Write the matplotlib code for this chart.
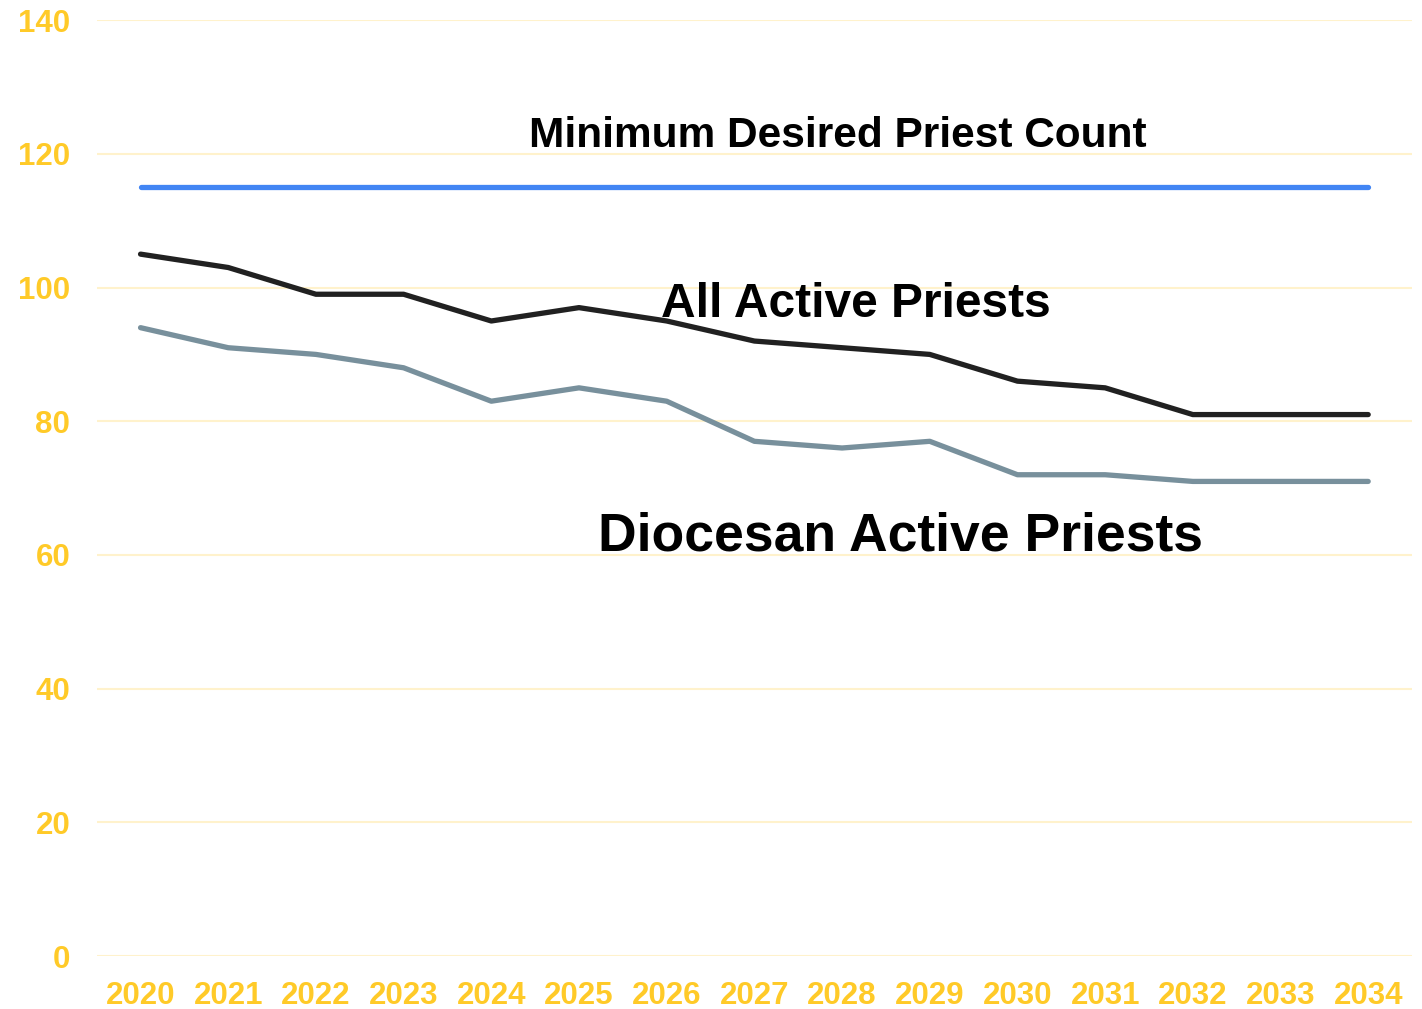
import numpy as np
import matplotlib.pyplot as plt

plt.rcParams['font.family'] = ['Liberation Sans', 'DejaVu Sans']

years = [str(y) for y in range(2020, 2035)]
all_active = [105, 103, 99, 99, 95, 97, 95, 92, 91, 90, 86, 85, 81, 81, 81]
diocesan = [94, 91, 90, 88, 83, 85, 83, 77, 76, 77, 72, 72, 71, 71, 71]
minimum = [115] * 15

fig = plt.figure(figsize=(14.22, 10.09), dpi=100)
ax = fig.add_axes([0.068, 0.0525, 0.925, 0.9275])

x = np.arange(len(years))
ax.plot(x, minimum, color='#4285F4', lw=3.8, solid_capstyle='round', zorder=3)
ax.plot(x, all_active, color='#212121', lw=3.8, solid_capstyle='round', solid_joinstyle='round', zorder=3)
ax.plot(x, diocesan, color='#78909C', lw=3.8, solid_capstyle='round', solid_joinstyle='round', zorder=3)

ax.text(7.95, 122.7, 'Minimum Desired Priest Count', ha='center', va='center',
        fontsize=30.5, fontweight='bold', color='black')
ax.text(8.16, 97.4, 'All Active Priests', ha='center', va='center',
        fontsize=34.5, fontweight='bold', color='black')
ax.text(8.67, 62.7, 'Diocesan Active Priests', ha='center', va='center',
        fontsize=38.5, fontweight='bold', color='black')

ax.set_xlim(-0.5, len(years) - 0.5)
ax.set_ylim(0, 140)
ax.set_yticks(range(0, 141, 20))
ax.set_xticks(x)
ax.set_xticklabels(years)
ax.grid(axis='y', color='#FFF2CC', lw=1.5, zorder=0)
for s in ax.spines.values():
    s.set_visible(False)
ax.tick_params(length=0, labelsize=22.5, labelcolor='#FFCA28')
for lab in ax.get_xticklabels() + ax.get_yticklabels():
    lab.set_fontweight('bold')
ax.tick_params(axis='x', pad=18)
ax.tick_params(axis='y', pad=19)

fig.savefig('out.png', dpi=100)
